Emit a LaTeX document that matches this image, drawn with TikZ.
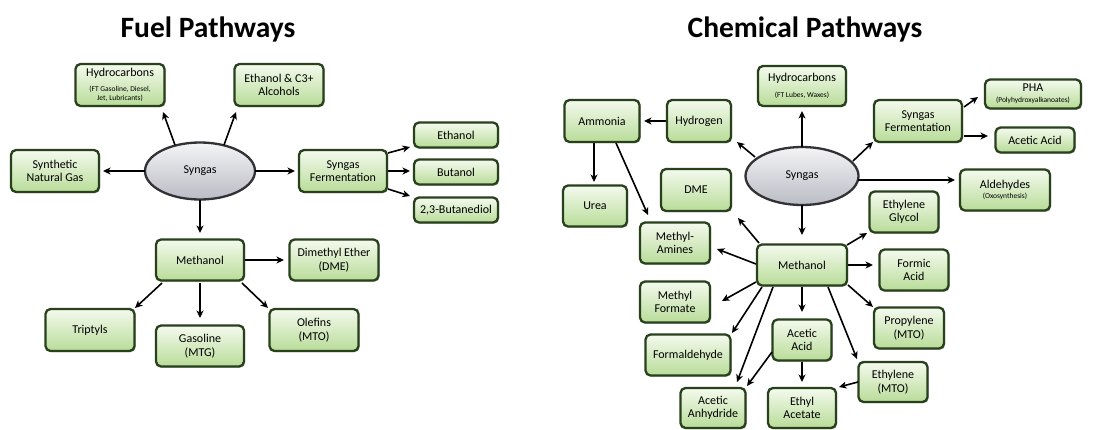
\documentclass[tikz,border=0pt]{standalone}
\usepackage{fontspec}
\setmainfont{Carlito}
\usetikzlibrary{shapes.geometric,shadows,arrows.meta}
\definecolor{bdr}{RGB}{40,64,28}
\definecolor{boxtop}{RGB}{244,250,238}
\definecolor{boxbot}{RGB}{184,220,152}
\definecolor{elltop}{RGB}{244,244,246}
\definecolor{ellbot}{RGB}{186,188,196}
\definecolor{ellbdr}{RGB}{50,50,54}
\tikzset{
  bx/.style 2 args={draw=bdr, line width=2.3pt, rounded corners=5pt,
    top color=boxtop, bottom color=boxbot, align=center, inner sep=1pt,
    minimum width=#1pt, minimum height=#2pt,
    font=\fontsize{12}{13.5}\selectfont,
    drop shadow={shadow xshift=1.2pt, shadow yshift=-1.2pt, opacity=0.3, fill=black}},
  ell/.style 2 args={ellipse, draw=ellbdr, line width=2.3pt,
    top color=elltop, bottom color=ellbot, inner sep=0pt,
    minimum width=#1pt, minimum height=#2pt,
    font=\fontsize{12}{13.5}\selectfont},
  ttl/.style={font=\fontsize{29.5}{33}\selectfont\bfseries, anchor=base},
  arr/.style={draw=black, line width=1.6pt, -{Stealth[length=7.5pt,width=7pt,inset=2.2pt]}},
}
\newcommand\sm{\fontsize{7.5}{8.5}\selectfont}
\begin{document}
\begin{tikzpicture}[x=1pt,y=-1pt]
\useasboundingbox[fill=white] (0,0) rectangle (1109,429);

% ---------------- Fuel pathways ----------------
\node[ttl] (ft) at (208,37) {Fuel Pathways};
\node[bx={89}{42}] (fhc) at (120,85) {Hydrocarbons\\[1pt] \sm (FT Gasoline, Diesel,\\[-4.5pt] \sm Jet, Lubricants)};
\node[bx={89}{42}] (fet) at (279,85) {Ethanol \& C3+\\Alcohols};
\node[bx={88}{42}] (fsng) at (55,171) {Synthetic\\Natural Gas};
\node[ell={110}{57}] (fsyn) at (200,171) {Syngas};
\node[bx={88}{42}] (ffer) at (343,171) {Syngas\\Fermentation};
\node[bx={84}{25}] (feth) at (456,135) {Ethanol};
\node[bx={84}{25}] (fbut) at (456,172) {Butanol};
\node[bx={84}{25}] (fbdo) at (456,210) {2,3-Butanediol};
\node[bx={88}{41}] (fme) at (200,260) {Methanol};
\node[bx={89}{41}] (fdme) at (334,260) {Dimethyl Ether\\(DME)};
\node[bx={89}{42}] (ftri) at (90,330) {Triptyls};
\node[bx={88}{41}] (fgas) at (200,346) {Gasoline\\(MTG)};
\node[bx={89}{42}] (fole) at (314,330) {Olefins\\(MTO)};

\draw[arr] ([shift={(-25,-26)}]fsyn.center) -- ([shift={(43,27)}]fhc.center);
\draw[arr] ([shift={(24,-26)}]fsyn.center) -- ([shift={(-43,27)}]fet.center);
\draw[arr] ([shift={(-55,0)}]fsyn.center) -- ([shift={(48,0)}]fsng.center);
\draw[arr] ([shift={(55,0)}]fsyn.center) -- ([shift={(-48,0)}]ffer.center);
\draw[arr] ([shift={(0,29)}]fsyn.center) -- ([shift={(0,-27)}]fme.center);
\draw[arr] ([shift={(45,-18)}]ffer.center) -- ([shift={(-46,12)}]feth.center);
\draw[arr] ([shift={(45,0)}]ffer.center) -- ([shift={(-46,-1)}]fbut.center);
\draw[arr] ([shift={(45,18)}]ffer.center) -- ([shift={(-46,-14)}]fbdo.center);
\draw[arr] ([shift={(45,0)}]fme.center) -- ([shift={(-50,0)}]fdme.center);
\draw[arr] ([shift={(-38,23)}]fme.center) -- ([shift={(45,-22)}]ftri.center);
\draw[arr] ([shift={(0,23)}]fme.center) -- ([shift={(0,-28)}]fgas.center);
\draw[arr] ([shift={(42,23)}]fme.center) -- ([shift={(-46,-22)}]fole.center);

% ---------------- Chemical pathways ----------------
\node[ttl] (ct) at (805,37) {Chemical Pathways};
\node[bx={88}{40}] (chc) at (802,86) {Hydrocarbons\\[2pt] \sm (FT Lubes, Waxes)};
\node[bx={75}{42}] (camm) at (602,121) {Ammonia};
\node[bx={64}{42}] (chyd) at (699,121) {Hydrogen};
\node[bx={88}{42}] (cfer) at (918,121) {Syngas\\Fermentation};
\node[bx={96}{29}] (cpha) at (1033,94) {PHA\\[-2.5pt] \sm (Polyhydroxyalkanoates)};
\node[bx={79}{25}] (caca) at (1035,140) {Acetic Acid};
\node[ell={113}{58}] (csyn) at (802,176) {Syngas};
\node[bx={90}{41}] (cald) at (1005,190) {Aldehydes\\[-3.5pt] \sm (Oxosynthesis)};
\node[bx={70}{42}] (cdme) at (696,190) {DME};
\node[bx={64}{41}] (cure) at (595,206) {Urea};
\node[bx={69}{41}] (ceg) at (904,212) {Ethylene\\Glycol};
\node[bx={70}{41}] (cma) at (675,243) {Methyl-\\Amines};
\node[bx={90}{41}] (cme) at (802,265) {Methanol};
\node[bx={69}{41}] (cfa) at (914,270) {Formic\\Acid};
\node[bx={70}{41}] (cmf) at (675,302) {Methyl\\Formate};
\node[bx={70}{41}] (cpro) at (909,328) {Propylene\\(MTO)};
\node[bx={85}{41}] (cfal) at (688,355) {Formaldehyde};
\node[bx={59}{41}] (cac2) at (802,340) {Acetic\\Acid};
\node[bx={69}{40}] (ceth) at (893,382) {Ethylene\\(MTO)};
\node[bx={65}{40}] (cans) at (713,408) {Acetic\\Anhydride};
\node[bx={68}{40}] (cea) at (802,408) {Ethyl\\Acetate};

\draw[arr] ([shift={(-33,0)}]chyd.center) -- ([shift={(42,0)}]camm.center);
\draw[arr] ([shift={(-8,22)}]camm.center) -- ([shift={(-1,-24)}]cure.center);
\draw[arr] ([shift={(14,22)}]camm.center) -- ([shift={(-27,-28)}]cma.center);
\draw[arr] ([shift={(-47,-19)}]csyn.center) -- ([shift={(38,21)}]chyd.center);
\draw[arr] ([shift={(0,-29)}]csyn.center) -- ([shift={(0,25)}]chc.center);
\draw[arr] ([shift={(51,-15)}]csyn.center) -- ([shift={(-45,21)}]cfer.center);
\draw[arr] ([shift={(56,4)}]csyn.center) -- ([shift={(-50,-10)}]cald.center);
\draw[arr] ([shift={(0,29)}]csyn.center) -- ([shift={(0,-30)}]cme.center);
\draw[arr] ([shift={(46,-14)}]cfer.center) -- ([shift={(-55,3)}]cpha.center);
\draw[arr] ([shift={(46,15)}]cfer.center) -- ([shift={(-47,-4)}]caca.center);
\draw[arr] ([shift={(-43,-22)}]cme.center) -- ([shift={(42,28)}]cdme.center);
\draw[arr] ([shift={(-46,-1)}]cme.center) -- ([shift={(42,6)}]cma.center);
\draw[arr] ([shift={(45,-20)}]cme.center) -- ([shift={(-37,21)}]ceg.center);
\draw[arr] ([shift={(46,0)}]cme.center) -- ([shift={(-41,-5)}]cfa.center);
\draw[arr] ([shift={(-46,17)}]cme.center) -- ([shift={(47,-1)}]cmf.center);
\draw[arr] ([shift={(-40,22)}]cme.center) -- ([shift={(44,-22)}]cfal.center);
\draw[arr] ([shift={(-29,22)}]cme.center) -- ([shift={(24,-26)}]cans.center);
\draw[arr] ([shift={(0,22)}]cme.center) -- ([shift={(0,-28)}]cac2.center);
\draw[arr] ([shift={(46,20)}]cme.center) -- ([shift={(-36,-21)}]cpro.center);
\draw[arr] ([shift={(26,22)}]cme.center) -- ([shift={(-36,-23)}]ceth.center);
\draw[arr] ([shift={(-30,12)}]cac2.center) -- ([shift={(34,-22)}]cans.center);
\draw[arr] ([shift={(0,22)}]cac2.center) -- ([shift={(0,-26)}]cea.center);
\draw[arr] ([shift={(-35,0)}]ceth.center) -- ([shift={(37,-21)}]cea.center);
\end{tikzpicture}
\end{document}
